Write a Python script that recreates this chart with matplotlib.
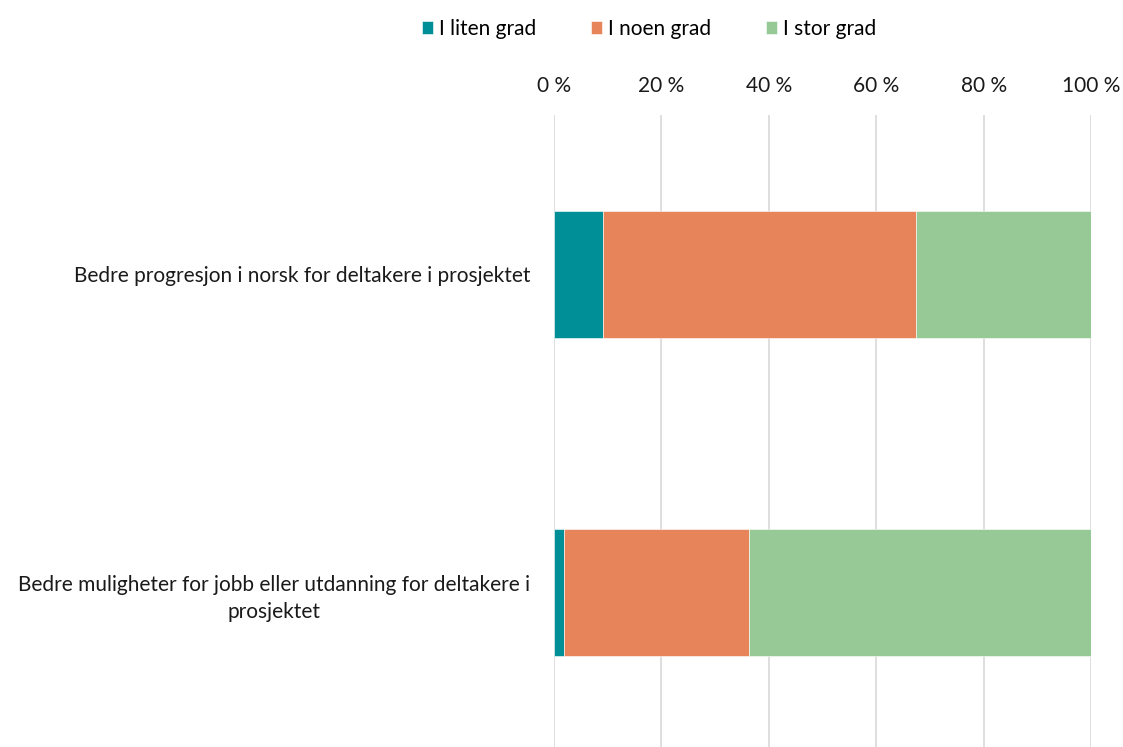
import numpy as np
import matplotlib
matplotlib.use('Agg')
import matplotlib.pyplot as plt

plt.rcParams['font.family'] = ['Lato', 'DejaVu Sans']

# Data (percent)
categories = ['Bedre progresjon i norsk for deltakere i prosjektet',
              'Bedre muligheter for jobb eller utdanning for deltakere i\nprosjektet']
series_names = ['I liten grad', 'I noen grad', 'I stor grad']
liten = [9.1, 1.9]
noen = [58.4, 34.5]
stor = [32.5, 63.6]
colors = ['#008F96', '#E8845A', '#96C996']
x_ticks = [0, 20, 40, 60, 80, 100]

fig = plt.figure(figsize=(11.23, 7.47), dpi=100)
ax = fig.add_axes([0.4933, -0.0067, 0.4782, 0.8527])

y = np.arange(len(categories))
left = np.zeros(len(categories))
for name, vals, col in zip(series_names, [liten, noen, stor], colors):
    ax.barh(y, vals, left=left, height=0.4, color=col, label=name,
            edgecolor='white', linewidth=0.4, zorder=3)
    left += np.array(vals)

fs = 15
ax.set_xlim(0, 100)
ax.set_ylim(1.5, -0.5)
ax.set_xticks(x_ticks)
ax.set_xticklabels([str(t) + ' %' for t in x_ticks])
ax.xaxis.tick_top()
ax.tick_params(axis='x', length=0, pad=14, labelsize=fs, colors='#1a1a1a')
ax.tick_params(axis='y', length=0, pad=17, labelsize=fs, colors='#1a1a1a')
ax.set_yticks(y)
ax.set_yticklabels(categories, multialignment='center', linespacing=1.45)
ax.grid(axis='x', color='#D9D9D9', linewidth=1.2, zorder=0)
for s in ax.spines.values():
    s.set_visible(False)

fig.legend(loc='upper center', bbox_to_anchor=(0.578, 1.0), ncol=3,
           frameon=False, fontsize=fs, handlelength=0.55, handleheight=0.55,
           handletextpad=0.3, columnspacing=2.6)

plt.savefig('out.png', dpi=100)
